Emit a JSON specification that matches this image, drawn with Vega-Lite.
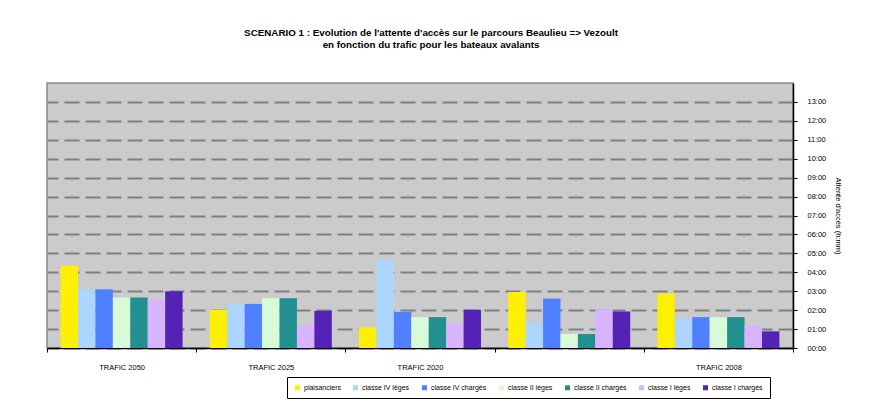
{
  "$schema": "https://vega.github.io/schema/vega-lite/v6.json",
  "autosize": {"type": "none"},
  "width": 746,
  "height": 265,
  "padding": {"left": 47, "top": 83, "right": 82, "bottom": 57},
  "background": "white",
  "config": {
    "font": "Liberation Sans",
    "view": {"fill": "#CBCBCB", "stroke": "#8A8A8A", "strokeWidth": 1.5}
  },
  "title": {
    "text": ["SCENARIO 1 : Evolution de l'attente d'accès sur le parcours Beaulieu => Vezoult", "en fonction du trafic pour les bateaux avalants"],
    "fontSize": 9.8,
    "fontWeight": "bold",
    "color": "#000000",
    "lineHeight": 12,
    "anchor": "middle",
    "frame": "group",
    "dx": 11,
    "offset": 33
  },
  "data": {
    "values": [
      {"trafic": "TRAFIC 2050", "bateau": "plaisanciers", "attente": 4.35},
      {"trafic": "TRAFIC 2050", "bateau": "classe IV lèges", "attente": 3.09},
      {"trafic": "TRAFIC 2050", "bateau": "classe IV chargés", "attente": 3.11},
      {"trafic": "TRAFIC 2050", "bateau": "classe II lèges", "attente": 2.67},
      {"trafic": "TRAFIC 2050", "bateau": "classe II chargés", "attente": 2.67},
      {"trafic": "TRAFIC 2050", "bateau": "classe I lèges", "attente": 2.56},
      {"trafic": "TRAFIC 2050", "bateau": "classe I chargés", "attente": 3.0},
      {"trafic": "TRAFIC 2025", "bateau": "plaisanciers", "attente": 2.02},
      {"trafic": "TRAFIC 2025", "bateau": "classe IV lèges", "attente": 2.33},
      {"trafic": "TRAFIC 2025", "bateau": "classe IV chargés", "attente": 2.33},
      {"trafic": "TRAFIC 2025", "bateau": "classe II lèges", "attente": 2.63},
      {"trafic": "TRAFIC 2025", "bateau": "classe II chargés", "attente": 2.63},
      {"trafic": "TRAFIC 2025", "bateau": "classe I lèges", "attente": 1.21},
      {"trafic": "TRAFIC 2025", "bateau": "classe I chargés", "attente": 1.96},
      {"trafic": "TRAFIC 2020", "bateau": "plaisanciers", "attente": 1.09},
      {"trafic": "TRAFIC 2020", "bateau": "classe IV lèges", "attente": 4.65},
      {"trafic": "TRAFIC 2020", "bateau": "classe IV chargés", "attente": 1.91},
      {"trafic": "TRAFIC 2020", "bateau": "classe II lèges", "attente": 1.63},
      {"trafic": "TRAFIC 2020", "bateau": "classe II chargés", "attente": 1.63},
      {"trafic": "TRAFIC 2020", "bateau": "classe I lèges", "attente": 1.28},
      {"trafic": "TRAFIC 2020", "bateau": "classe I chargés", "attente": 2.02},
      {"trafic": " ", "bateau": "plaisanciers", "attente": 2.96},
      {"trafic": " ", "bateau": "classe IV lèges", "attente": 1.32},
      {"trafic": " ", "bateau": "classe IV chargés", "attente": 2.61},
      {"trafic": " ", "bateau": "classe II lèges", "attente": 0.74},
      {"trafic": " ", "bateau": "classe II chargés", "attente": 0.74},
      {"trafic": " ", "bateau": "classe I lèges", "attente": 2.05},
      {"trafic": " ", "bateau": "classe I chargés", "attente": 1.93},
      {"trafic": "TRAFIC 2008", "bateau": "plaisanciers", "attente": 2.88},
      {"trafic": "TRAFIC 2008", "bateau": "classe IV lèges", "attente": 1.56},
      {"trafic": "TRAFIC 2008", "bateau": "classe IV chargés", "attente": 1.63},
      {"trafic": "TRAFIC 2008", "bateau": "classe II lèges", "attente": 1.63},
      {"trafic": "TRAFIC 2008", "bateau": "classe II chargés", "attente": 1.63},
      {"trafic": "TRAFIC 2008", "bateau": "classe I lèges", "attente": 1.18},
      {"trafic": "TRAFIC 2008", "bateau": "classe I chargés", "attente": 0.88}
    ]
  },
  "mark": {"type": "bar"},
  "encoding": {
    "x": {
      "field": "trafic",
      "type": "nominal",
      "sort": ["TRAFIC 2050", "TRAFIC 2025", "TRAFIC 2020", " ", "TRAFIC 2008"],
      "scale": {"paddingInner": 0, "paddingOuter": 0},
      "axis": {
        "title": null,
        "labelAngle": 0,
        "labelFontSize": 7.5,
        "labelColor": "#000000",
        "labelPadding": 11,
        "domainColor": "#000000",
        "domainWidth": 1.5,
        "tickBand": "extent",
        "tickColor": "#000000",
        "tickSize": 4,
        "grid": false
      }
    },
    "xOffset": {
      "field": "bateau",
      "type": "nominal",
      "sort": ["plaisanciers", "classe IV lèges", "classe IV chargés", "classe II lèges", "classe II chargés", "classe I lèges", "classe I chargés"],
      "scale": {"paddingInner": 0, "paddingOuter": 0.78}
    },
    "y": {
      "field": "attente",
      "type": "quantitative",
      "scale": {"domain": [0, 14], "nice": false},
      "axis": {
        "orient": "right",
        "title": "Attente d'accès (h:mm)",
        "titleFontSize": 7.5,
        "titleFontWeight": "normal",
        "titleColor": "#000000",
        "titlePadding": 8,
        "values": [0, 1, 2, 3, 4, 5, 6, 7, 8, 9, 10, 11, 12, 13],
        "labelExpr": "(datum.value < 10 ? '0' : '') + datum.value + ':00'",
        "labelFontSize": 7.5,
        "labelColor": "#000000",
        "labelPadding": 10,
        "tickColor": "#000000",
        "tickSize": 4,
        "domainColor": "#000000",
        "domainWidth": 1.5,
        "grid": true,
        "gridColor": "#808080",
        "gridWidth": 2,
        "gridDash": [15, 6],
        "gridOpacity": 1
      }
    },
    "color": {
      "field": "bateau",
      "type": "nominal",
      "sort": ["plaisanciers", "classe IV lèges", "classe IV chargés", "classe II lèges", "classe II chargés", "classe I lèges", "classe I chargés"],
      "scale": {
        "domain": ["plaisanciers", "classe IV lèges", "classe IV chargés", "classe II lèges", "classe II chargés", "classe I lèges", "classe I chargés"],
        "range": ["#FFF000", "#ADD6FF", "#4F80FF", "#D9FAD9", "#239090", "#D8B4FF", "#5522B8"]
      },
      "legend": {
        "title": null,
        "orient": "none",
        "direction": "horizontal",
        "legendX": 240,
        "legendY": 294,
        "strokeColor": "#000000",
        "fillColor": "#FFFFFF",
        "padding": 7,
        "symbolType": "square",
        "symbolSize": 25,
        "symbolStrokeWidth": 0,
        "symbolOffset": 0,
        "labelFontSize": 7,
        "labelColor": "#000000",
        "labelOffset": 3,
        "columnPadding": 11
      }
    }
  }
}
